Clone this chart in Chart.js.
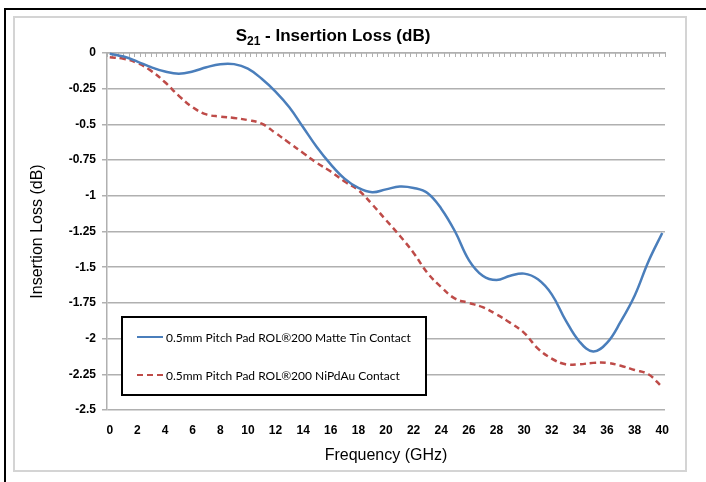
<!DOCTYPE html>
<html>
<head>
<meta charset="utf-8">
<script src="https://cdn.jsdelivr.net/npm/chart.js@4.4.1/dist/chart.umd.min.js"></script>
<style>
    body { margin: 0; background: #fff; width: 706px; height: 482px; overflow: hidden; position: relative; }
    #frame { position: absolute; left: 4px; top: 8px; width: 720px; height: 490px; border-left: 2px solid #000; border-top: 2px solid #000; }
    #box { position: absolute; left: 13px; top: 16px; width: 670px; height: 452px; border: 2px solid #d4d4d4; background: #fff; }
    canvas { display: block; }
</style>
</head>
<body>
<div id="frame"></div>
<div id="box"><canvas id="chart" width="670" height="452"></canvas></div>
<script>
// Frequency in GHz
var freq = [0, 1, 2, 3, 4, 5, 6, 7, 8, 9, 10, 11, 12, 13, 14, 15, 16, 17, 18, 19, 20,
            21, 22, 23, 24, 25, 26, 27, 28, 29, 30, 31, 32, 33, 34, 35, 36, 37, 38, 39, 40];

// Insertion loss (dB), Matte Tin contact
var matteTin = [-0.005, -0.025, -0.06, -0.10, -0.13, -0.145, -0.13, -0.10, -0.078, -0.078, -0.11,
                -0.18, -0.27, -0.38, -0.52, -0.66, -0.78, -0.88, -0.945, -0.975, -0.955,
                -0.935, -0.945, -0.98, -1.09, -1.25, -1.45, -1.56, -1.59, -1.56, -1.545,
                -1.585, -1.69, -1.87, -2.02, -2.09, -2.03, -1.88, -1.70, -1.46, -1.26];

// Insertion loss (dB), NiPdAu contact
var niPdAu = [-0.03, -0.04, -0.07, -0.125, -0.205, -0.30, -0.38, -0.43, -0.445, -0.455, -0.47,
              -0.495, -0.56, -0.63, -0.70, -0.77, -0.83, -0.90, -0.96, -1.06, -1.17,
              -1.28, -1.40, -1.54, -1.64, -1.72, -1.75, -1.78, -1.83, -1.89, -1.96,
              -2.07, -2.14, -2.18, -2.18, -2.17, -2.17, -2.19, -2.22, -2.25, -2.34];

var xTicks = [0, 2, 4, 6, 8, 10, 12, 14, 16, 18, 20, 22, 24, 26, 28, 30, 32, 34, 36, 38, 40];
var yTicks = [0, -0.25, -0.5, -0.75, -1, -1.25, -1.5, -1.75, -2, -2.25, -2.5];

var seriesNames = ['0.5mm Pitch Pad ROL\u00AE200 Matte Tin Contact', '0.5mm Pitch Pad ROL\u00AE200 NiPdAu Contact'];
var seriesColors = ['#4a7ebb', '#be4b48'];

var arial = '"Liberation Sans", Arial, sans-serif';
var gridColor = '#b0b0b0';

function toPoints(vals) {
    return freq.map(function (f, i) { return { x: f, y: vals[i] }; });
}

// title with subscript S21
var titlePlugin = {
    id: 'subTitle',
    afterDraw: function (chart) {
        var ctx = chart.ctx;
        var big = 'bold 17px ' + arial, small = 'bold 12px ' + arial;
        var a = 'S', b = '21', c = ' - Insertion Loss (dB)';
        ctx.save();
        ctx.fillStyle = '#000';
        ctx.textBaseline = 'alphabetic';
        ctx.font = big;
        var w1 = ctx.measureText(a).width, w3 = ctx.measureText(c).width;
        ctx.font = small;
        var w2 = ctx.measureText(b).width;
        var x = chart.width / 2 - 17 - (w1 + w2 + w3) / 2, y = 23;
        ctx.font = big; ctx.fillText(a, x, y);
        ctx.font = small; ctx.fillText(b, x + w1, y + 4);
        ctx.font = big; ctx.fillText(c, x + w1 + w2, y);
        ctx.restore();
    }
};

// boxed legend inside the plot, bottom left
var legendPlugin = {
    id: 'boxLegend',
    afterDraw: function (chart) {
        var ctx = chart.ctx, area = chart.chartArea;
        var left = area.left + 15, bottom = area.bottom - 15, w = 304, h = 78, top = bottom - h;
        ctx.save();
        ctx.fillStyle = '#fff';
        ctx.fillRect(left, top, w, h);
        ctx.strokeStyle = '#000';
        ctx.lineWidth = 2;
        ctx.strokeRect(left, top, w, h);
        ctx.font = '12px Lato, "Open Sans", sans-serif';
        ctx.textBaseline = 'middle';
        chart.data.datasets.forEach(function (ds, i) {
            var y = top + 20 + i * 38;
            ctx.strokeStyle = ds.borderColor;
            ctx.lineWidth = 2;
            ctx.setLineDash(ds.borderDash || []);
            ctx.beginPath();
            ctx.moveTo(left + 15, y);
            ctx.lineTo(left + 41, y);
            ctx.stroke();
            ctx.setLineDash([]);
            ctx.fillStyle = '#000';
            ctx.fillText(ds.label, left + 44, y + 1);
        });
        ctx.restore();
    }
};

var ctx = document.getElementById('chart').getContext('2d');
var chart = new Chart(ctx, {
    type: 'line',
    data: {
        datasets: [
            {
                label: seriesNames[0],
                data: toPoints(matteTin),
                borderColor: seriesColors[0],
                borderWidth: 2.5,
                pointRadius: 0,
                tension: 0.4,
                fill: false,
                clip: 4
            },
            {
                label: seriesNames[1],
                data: toPoints(niPdAu),
                borderColor: seriesColors[1],
                borderWidth: 2.5,
                borderDash: [6, 4],
                pointRadius: 0,
                tension: 0.4,
                fill: false,
                clip: 4
            }
        ]
    },
    options: {
        responsive: false,
        animation: false,
        layout: { padding: { left: 0, right: 20, top: 35, bottom: 0 } },
        plugins: {
            legend: { display: false },
            tooltip: { enabled: false },
            title: { display: false }
        },
        scales: {
            x: {
                type: 'linear',
                min: -0.2,
                max: 40.2,
                afterBuildTicks: function (s) { s.ticks = xTicks.map(function (v) { return { value: v }; }); },
                afterFit: function (s) { s.height = 60; },
                grid: { display: false, drawTicks: false },
                border: { display: false },
                ticks: { padding: 13, color: '#000', maxRotation: 0, autoSkip: false, font: { family: arial, size: 12, weight: 'bold' } },
                title: { display: true, text: 'Frequency (GHz)', color: '#000', font: { family: arial, size: 16 }, padding: { top: 0, bottom: 5 } }
            },
            x2: {
                type: 'linear',
                position: 'top',
                min: -0.2,
                max: 40.2,
                afterFit: function (s) { s.height = 0; },
                ticks: { display: false, stepSize: 0.4 },
                grid: { drawOnChartArea: false, drawTicks: true, tickLength: -4, color: gridColor, lineWidth: 1 },
                border: { display: true, color: gridColor, width: 1.5 }
            },
            y: {
                min: -2.5,
                max: 0,
                afterBuildTicks: function (s) { s.ticks = yTicks.map(function (v) { return { value: v }; }); },
                afterFit: function (s) { s.width = 92; },
                grid: { color: gridColor, lineWidth: 1.5, tickLength: 5 },
                border: { color: gridColor, width: 1.5 },
                ticks: {
                    padding: 6,
                    color: '#000',
                    font: { family: arial, size: 12, weight: 'bold' },
                    callback: function (v) { return String(+v.toFixed(2)); }
                },
                title: { display: true, text: 'Insertion Loss (dB)', color: '#000', font: { family: arial, size: 16 }, padding: { top: 13, bottom: 0 } }
            }
        }
    },
    plugins: [titlePlugin, legendPlugin]
});
</script>
</body>
</html>
